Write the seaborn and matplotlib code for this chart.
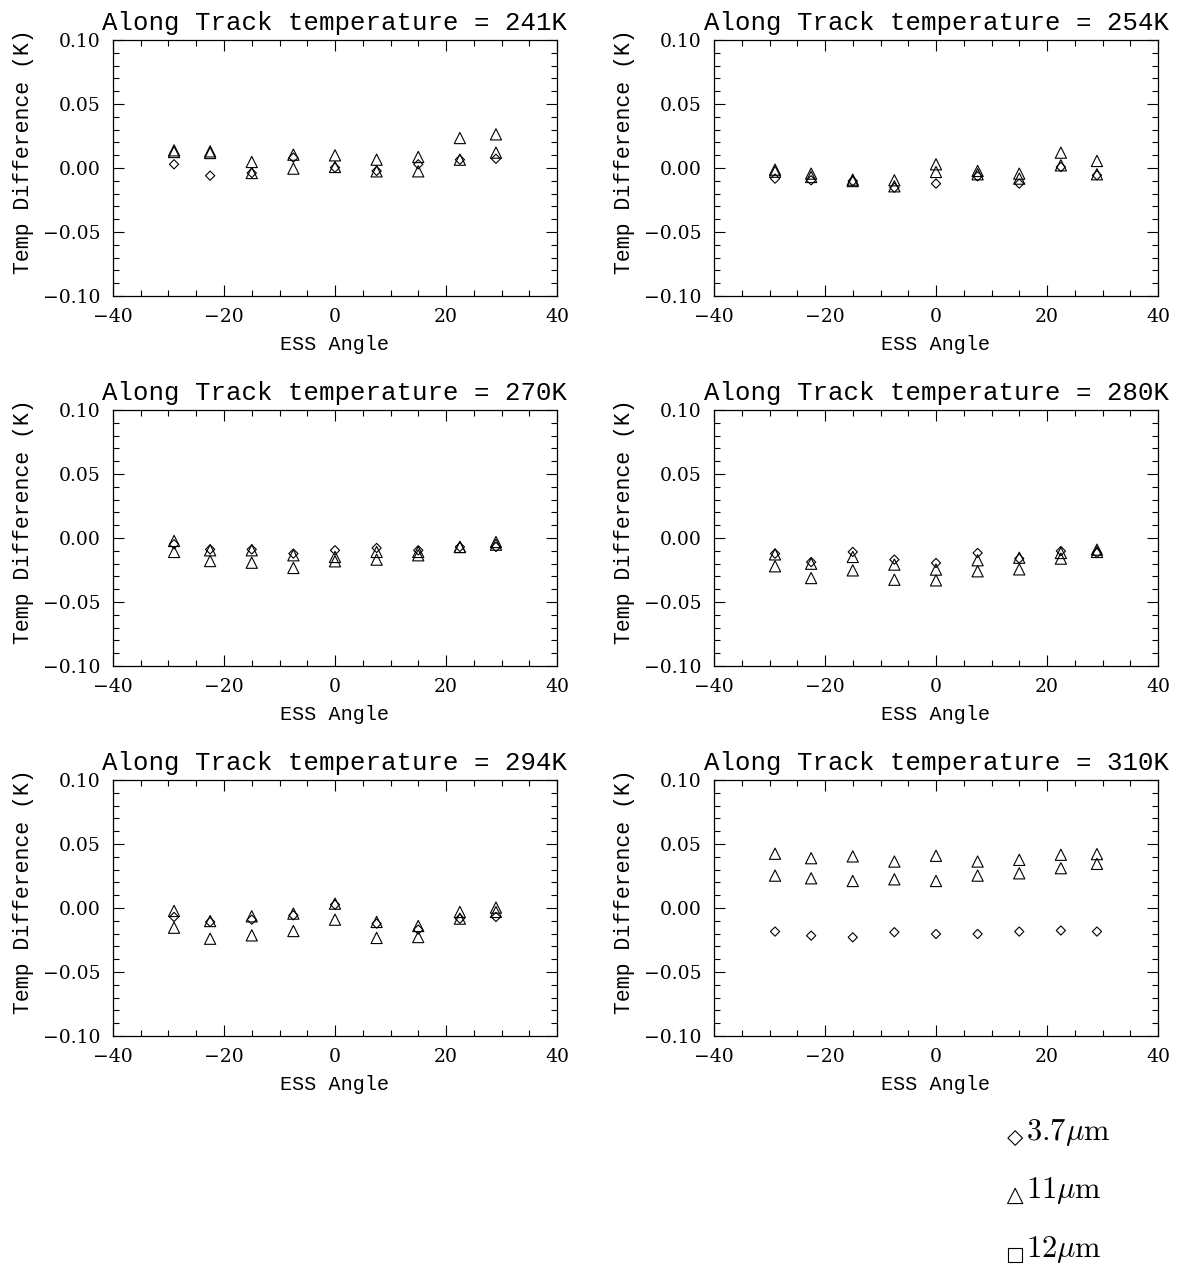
import numpy as np
import matplotlib
matplotlib.use('Agg')
import matplotlib.pyplot as plt
import seaborn as sns
from matplotlib.ticker import MultipleLocator, FuncFormatter

sns.set_style('ticks')
plt.rcParams['font.family'] = ['DejaVu Serif']
plt.rcParams['mathtext.fontset'] = 'cm'
plt.rcParams['text.color'] = 'black'
plt.rcParams['axes.labelcolor'] = 'black'
plt.rcParams['xtick.color'] = 'black'
plt.rcParams['ytick.color'] = 'black'

# ESS angles (deg)
angles = [-29, -22.5, -15, -7.5, 0, 7.5, 15, 22.5, 29]

# along track temperatures for each panel
temps = [241, 254, 270, 280, 294, 310]

# temperature differences (K): 3.7um, 11um, 12um
d37 = [
    [0.0029, -0.0060, -0.0039, 0.0081, 0.0003, -0.0023, 0.0029, 0.0065, 0.0072],
    [-0.0083, -0.0096, -0.0102, -0.0154, -0.0122, -0.0065, -0.0122, 0.0008, -0.0057],
    [-0.0049, -0.0089, -0.0089, -0.0122, -0.0096, -0.0078, -0.0096, -0.0070, -0.0070],
    [-0.0122, -0.0188, -0.0109, -0.0169, -0.0195, -0.0117, -0.0161, -0.0102, -0.0117],
    [-0.0070, -0.0109, -0.0091, -0.0057, 0.0026, -0.0122, -0.0169, -0.0083, -0.0070],
    [-0.0184, -0.0216, -0.0229, -0.0189, -0.0203, -0.0203, -0.0184, -0.0176, -0.0184],
]
d11 = [
    [0.0138, 0.0130, 0.0047, 0.0104, 0.0099, 0.0065, 0.0086, 0.0234, 0.0263],
    [-0.0013, -0.0044, -0.0091, -0.0096, 0.0029, -0.0023, -0.0044, 0.0120, 0.0055],
    [-0.0023, -0.0096, -0.0096, -0.0135, -0.0148, -0.0109, -0.0109, -0.0070, -0.0031],
    [-0.0128, -0.0201, -0.0148, -0.0208, -0.0247, -0.0174, -0.0154, -0.0117, -0.0091],
    [-0.0023, -0.0102, -0.0065, -0.0044, 0.0034, -0.0109, -0.0141, -0.0031, 0.0003],
    [0.0424, 0.0389, 0.0403, 0.0363, 0.0408, 0.0363, 0.0376, 0.0416, 0.0421],
]
d12 = [
    [0.0125, 0.0117, -0.0039, -0.0005, 0.0008, -0.0026, -0.0026, 0.0065, 0.0120],
    [-0.0029, -0.0070, -0.0102, -0.0143, -0.0031, -0.0049, -0.0083, 0.0021, -0.0049],
    [-0.0109, -0.0180, -0.0193, -0.0234, -0.0182, -0.0169, -0.0135, -0.0070, -0.0052],
    [-0.0221, -0.0313, -0.0253, -0.0326, -0.0331, -0.0260, -0.0245, -0.0161, -0.0109],
    [-0.0154, -0.0240, -0.0214, -0.0180, -0.0091, -0.0234, -0.0227, -0.0083, -0.0031],
    [0.0253, 0.0232, 0.0211, 0.0224, 0.0211, 0.0253, 0.0271, 0.0311, 0.0345],
]

W, H = 1178, 1267
fig = plt.figure(figsize=(W / 100, H / 100), dpi=100)

lefts = [113, 714]
tops = [40, 410, 780]
aw, ah = 444, 256

mono = ['Liberation Mono', 'DejaVu Sans Mono']
minus = FuncFormatter(lambda v, p: ('%.2f' % v).replace('-', '\u2212'))
xminus = FuncFormatter(lambda v, p: ('%d' % v).replace('-', '\u2212'))

for i, t in enumerate(temps):
    r, c = divmod(i, 2)
    ax = fig.add_axes([lefts[c] / W, 1 - (tops[r] + ah) / H, aw / W, ah / H])
    sns.scatterplot(x=angles, y=d37[i], ax=ax, marker='D', s=22,
                    facecolor='none', edgecolor='black', linewidth=0.8)
    sns.scatterplot(x=angles, y=d11[i], ax=ax, marker='^', s=65,
                    facecolor='none', edgecolor='black', linewidth=0.8)
    sns.scatterplot(x=angles, y=d12[i], ax=ax, marker='^', s=65,
                    facecolor='none', edgecolor='black', linewidth=0.8)
    ax.set_xlim(-40, 40)
    ax.set_ylim(-0.1, 0.1)
    ax.xaxis.set_major_locator(MultipleLocator(20))
    ax.xaxis.set_minor_locator(MultipleLocator(5))
    ax.yaxis.set_major_locator(MultipleLocator(0.05))
    ax.yaxis.set_minor_locator(MultipleLocator(0.01))
    ax.yaxis.set_major_formatter(minus)
    ax.xaxis.set_major_formatter(xminus)
    ax.tick_params(which='both', direction='in', top=True, right=True,
                   width=0.8, labelsize=13.5, pad=9)
    ax.tick_params(which='major', length=8)
    ax.tick_params(which='minor', length=4)
    for s in ax.spines.values():
        s.set_linewidth(0.9)
        s.set_color('black')
    ax.set_xlabel('ESS Angle', fontsize=14.5, labelpad=6, family=mono)
    ax.set_ylabel('Temp Difference (K)', fontsize=15.5, family=mono)
    ax.yaxis.set_label_coords(-0.178, 0.5625)
    ax.set_title('Along Track temperature = %dK' % t, fontsize=18.5, pad=7,
                 family=mono)

# legend block
lax = fig.add_axes([990 / W, 0, 180 / W, 160 / H])
lax.set_xlim(0, 1)
lax.set_ylim(0, 1)
lax.axis('off')
names = [r'$3.7\mu\mathrm{m}$', r'$11\mu\mathrm{m}$', r'$12\mu\mathrm{m}$']
marks = ['D', '^', 's']
sizes = [55, 120, 110]
ys = [0.806, 0.444, 0.075]
for n, m, sz, yy in zip(names, marks, sizes, ys):
    sns.scatterplot(x=[0.14], y=[yy], ax=lax, marker=m, s=sz,
                    facecolor='none', edgecolor='black', linewidth=0.8,
                    clip_on=False)
    lax.text(0.2, yy - 0.015, n, fontsize=22, va='baseline', ha='left')

fig.savefig('out.png', dpi=100)
